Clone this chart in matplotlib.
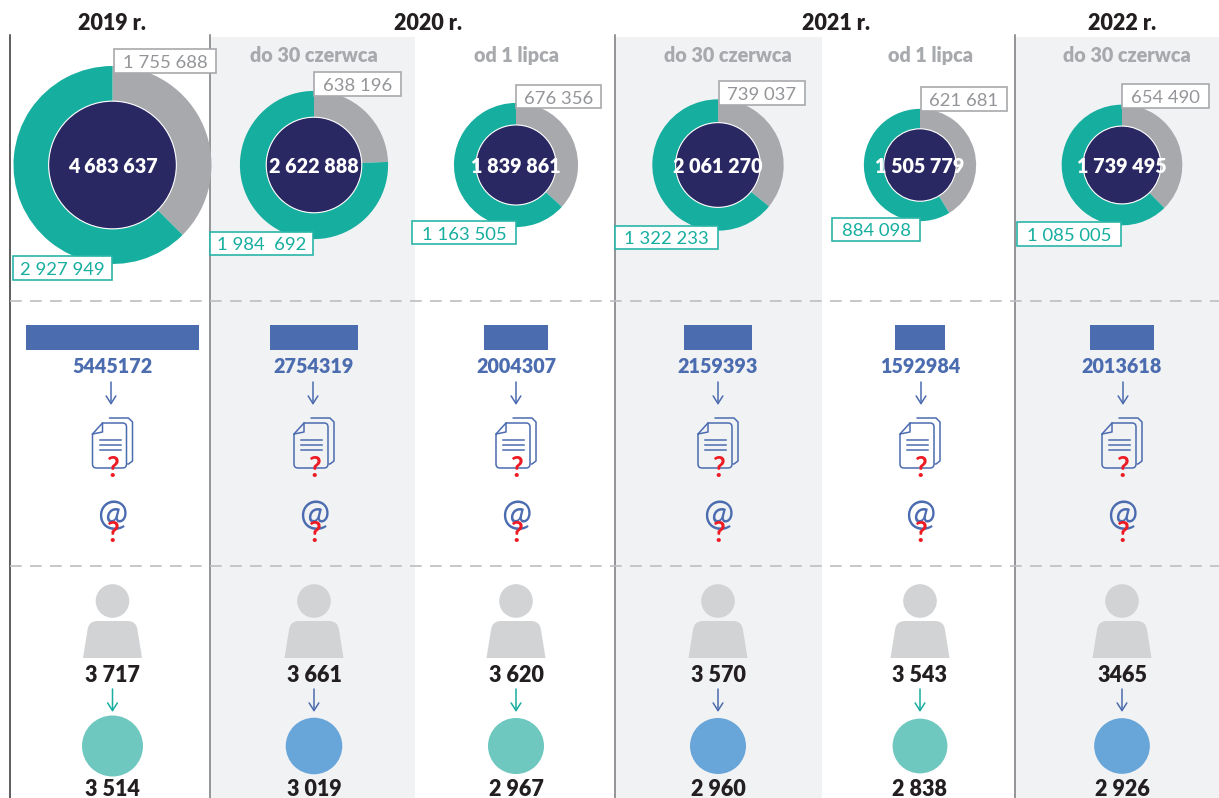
import numpy as np
import matplotlib
matplotlib.use('Agg')
import matplotlib.pyplot as plt
from matplotlib.patches import Circle, PathPatch, Rectangle
from matplotlib.path import Path

plt.rcParams['font.family'] = ['Lato', 'DejaVu Sans']

years = ['2019 r.', '2020 r.', '2021 r.', '2022 r.']
periods = ['', 'do 30 czerwca', 'od 1 lipca', 'do 30 czerwca', 'od 1 lipca', 'do 30 czerwca']

totals = ['4 683 637', '2 622 888', '1 839 861', '2 061 270', '1 505 779', '1 739 495']
grey_part = ['1 755 688', '638 196', '676 356', '739 037', '621 681', '654 490']
teal_part = ['2 927 949', '1 984  692', '1 163 505', '1 322 233', '884 098', '1 085 005']

bar_values = ['5445172', '2754319', '2004307', '2159393', '1592984', '2013618']
people = ['3 717', '3 661', '3 620', '3 570', '3 543', '3465']
circle_values = ['3 514', '3 019', '2 967', '2 960', '2 838', '2 926']
circle_kind = ['teal', 'blue', 'teal', 'blue', 'teal', 'blue']

TEAL = '#16ae9f'
GREY = '#a7a9ac'
NAVY = '#2a2863'
BLUE = '#4c6cb0'
RED = '#ed1c24'
DARK = '#231f20'
SHADE = '#f1f2f4'
PERSON = '#d1d3d4'
CIRCLE_COL = {'teal': '#6fc8c0', 'blue': '#68a5d9'}
ARROW_COL = {'teal': TEAL, 'blue': BLUE}
HEAVY = 'heavy'

# layout in pixels of the target picture
col_x = [112.5, 314, 516, 718, 920, 1122]
arrow_x = [111, 313, 516, 718, 921, 1123]
year_x = [112, 428, 836, 1122]
period_x = [0, 314, 516, 728, 930, 1127]
grey_box = [(114, 49, 216, 73), (314, 72, 401, 96), (516, 85, 601, 108),
            (719, 81, 805, 105), (921, 87, 1007, 111), (1122, 84, 1209, 108)]
teal_box = [(13, 256, 112, 280), (210, 232, 313, 255), (412, 221, 516, 244),
            (615, 226, 718, 249), (832, 218, 920, 241), (1017, 222, 1121, 246)]


def num(s):
    return int(s.replace(' ', ''))


def label_box(ax, box, txt, edge, color):
    x0, y0, x1, y1 = box
    ax.add_patch(Rectangle((x0, y0), x1 - x0, y1 - y0, fc='white', ec=edge, lw=1.2, zorder=6))
    ax.text((x0 + x1) / 2, (y0 + y1) / 2 + 0.5, txt, color=color, fontsize=13.3, ha='center',
            va='center_baseline', zorder=7)


def down_arrow(ax, x, y0, y1, color):
    ax.annotate('', xy=(x, y1), xytext=(x, y0),
                arrowprops=dict(arrowstyle='->,head_length=0.55,head_width=0.35', color=color,
                                lw=1.1, shrinkA=0, shrinkB=0))


def doc_icon(ax, cx):
    # back sheet
    v = np.array([(-3, 418), (16, 418), (20, 422), (20, 461), (16, 464), (15, 464)], float)
    ax.plot(cx + v[:, 0], v[:, 1], color=BLUE, lw=1.1, solid_capstyle='round', zorder=3)
    # front sheet with folded corner
    verts = [(-20, 434), (-10, 423), (10, 423), (14, 423), (14, 427), (14, 464), (14, 468),
             (10, 468), (-16, 468), (-20, 468), (-20, 464), (-20, 434)]
    codes = [Path.MOVETO, Path.LINETO, Path.LINETO, Path.CURVE3, Path.CURVE3, Path.LINETO,
             Path.CURVE3, Path.CURVE3, Path.LINETO, Path.CURVE3, Path.CURVE3, Path.LINETO]
    verts = [(cx + a, b) for a, b in verts]
    ax.add_patch(PathPatch(Path(verts, codes), fc='none', ec=BLUE, lw=1.1, zorder=3))
    ax.plot([cx - 20, cx - 10, cx - 10], [434, 432, 423], color=BLUE, lw=1.1, zorder=3)
    for y in (440, 445, 450):
        ax.plot([cx - 13, cx + 8], [y, y], color=BLUE, lw=1.1, zorder=3)


def person_icon(ax, cx):
    ax.add_patch(Circle((cx, 601), 16.8, fc=PERSON, ec='none', zorder=3))
    verts = [(-29.5, 658), (-25, 630), (-24, 621), (-15, 621), (15, 621), (24, 621), (25, 630),
             (29.5, 658), (-29.5, 658)]
    codes = [Path.MOVETO, Path.LINETO, Path.CURVE3, Path.CURVE3, Path.LINETO, Path.CURVE3,
             Path.CURVE3, Path.LINETO, Path.CLOSEPOLY]
    verts = [(cx + a, b) for a, b in verts]
    ax.add_patch(PathPatch(Path(verts, codes), fc=PERSON, ec='none', zorder=3))


fig = plt.figure(figsize=(12.19, 7.98), dpi=100)
ax = fig.add_axes([0, 0, 1, 1])

# shaded columns
for x0, x1 in [(211, 415), (615, 822), (1015, 1219)]:
    ax.add_patch(Rectangle((x0, 37), x1 - x0, 761, fc=SHADE, ec='none', zorder=0))
ax.plot([10, 10], [35, 798], color='#333333', lw=1.1, zorder=1)
for x in (210, 615, 1014.5):
    ax.plot([x, x], [35, 798], color='#77787b', lw=1.1, zorder=1)
for y in (301, 566):
    ax.plot([10, 1219], [y, y], color='#bcbec0', lw=1.2, dashes=(7, 5), zorder=1)

for x, t in zip(year_x, years):
    ax.text(x, 21, t, color=DARK, fontsize=15.5, fontweight=HEAVY, ha='center', va='center_baseline')
for x, t in zip(period_x, periods):
    if t:
        ax.text(x, 54, t, color=GREY, fontsize=14.2, fontweight=HEAVY, ha='center', va='center_baseline')

r_scale = 99 / np.sqrt(num(totals[0]))
bar_scale = 173 / num(bar_values[0])
circ_scale = 30.5 / np.sqrt(num(circle_values[0]))

for i, cx in enumerate(col_x):
    # donut, size follows the total
    r = r_scale * np.sqrt(num(totals[i]))
    # y axis is flipped, so counterclock=True reads clockwise on screen
    ax.pie([num(grey_part[i]), num(teal_part[i])], colors=[GREY, TEAL], center=(cx, 165), radius=r,
           startangle=-90, counterclock=True, wedgeprops=dict(width=r * 0.355, lw=0, zorder=2))
    ax.add_patch(Circle((cx, 165), r * 0.645, fc=NAVY, ec='white', lw=0.8, zorder=3))
    ax.text(cx, 165, totals[i], color='white', fontsize=14.2, fontweight=HEAVY, ha='center',
            va='center_baseline', zorder=5)
    label_box(ax, grey_box[i], grey_part[i], GREY, '#939598')
    label_box(ax, teal_box[i], teal_part[i], '#2bb5a8', TEAL)

    # bar with its value
    w = num(bar_values[i]) * bar_scale
    ax.add_patch(Rectangle((cx - w / 2, 325), w, 25, fc=BLUE, ec='none', zorder=2))
    ax.text(cx, 365, bar_values[i], color=BLUE, fontsize=14.2, fontweight=HEAVY, ha='center',
            va='center_baseline')
    down_arrow(ax, arrow_x[i], 382, 405, BLUE)

    # icons
    doc_icon(ax, cx)
    ax.text(cx, 469, '?', color=RED, fontsize=20, fontweight='bold', ha='center', va='center', zorder=4)
    ax.text(cx, 515, '@', color=BLUE, fontsize=26, ha='center', va='center', zorder=3)
    ax.text(cx, 534, '?', color=RED, fontsize=20, fontweight='bold', ha='center', va='center', zorder=4)

    person_icon(ax, cx)
    ax.text(cx, 674, people[i], color=DARK, fontsize=15.5, fontweight=HEAVY, ha='center',
            va='center_baseline')
    down_arrow(ax, cx, 689, 712, ARROW_COL[circle_kind[i]])

    ax.add_patch(Circle((cx, 746), circ_scale * np.sqrt(num(circle_values[i])),
                        fc=CIRCLE_COL[circle_kind[i]], ec='none', zorder=3))
    ax.text(cx, 787, circle_values[i], color=DARK, fontsize=15.5, fontweight=HEAVY, ha='center',
            va='center_baseline')

ax.set_xlim(0, 1219)
ax.set_ylim(798, 0)
ax.set_aspect('equal')
ax.axis('off')

fig.savefig('out.png', dpi=100)
